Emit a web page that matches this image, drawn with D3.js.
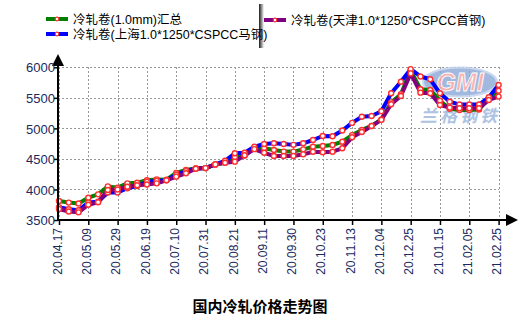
<!DOCTYPE html>
<html><head><meta charset="utf-8">
<script src="https://cdn.jsdelivr.net/npm/d3@7"></script>
<style>body{margin:0;background:#fff}svg{display:block}</style>
</head><body>
<script>
const tickLabels = ["20.04.17","20.05.09","20.05.29","20.06.19","20.07.10","20.07.31","20.08.21","20.09.11","20.09.30","20.10.23","20.11.13","20.12.04","20.12.25","21.01.15","21.02.05","21.02.25"];
const yTicks = [3500,4000,4500,5000,5500,6000];
const seriesNames = ["冷轧卷(1.0mm)汇总","冷轧卷(上海1.0*1250*CSPCC马钢)","冷轧卷(天津1.0*1250*CSPCC首钢)"];
const greenVals = [3810,3785,3770,3865,3920,4050,4030,4100,4110,4150,4165,4160,4270,4320,4345,4350,4410,4440,4527,4555,4675,4675,4646,4620,4620,4657,4700,4711,4728,4782,4890,4974,5040,5145,5425,5560,5950,5640,5628,5453,5320,5300,5300,5310,5493,5617];
const blueVals  = [3710,3675,3660,3785,3800,3950,3950,4020,4055,4125,4140,4150,4240,4300,4345,4350,4410,4470,4592,4600,4700,4745,4756,4745,4730,4756,4810,4875,4870,4965,5090,5191,5203,5280,5574,5764,5970,5850,5804,5574,5437,5390,5390,5390,5509,5710];
const purpleVals= [3680,3640,3625,3750,3790,3990,4000,4045,4070,4080,4100,4150,4210,4265,4340,4350,4410,4438,4455,4560,4660,4600,4548,4548,4548,4575,4618,4608,4618,4674,4854,4940,5040,5140,5395,5530,5900,5585,5574,5383,5340,5330,5330,5330,5465,5520];

const W=521,H=328;
const svg=d3.select("body").append("svg").attr("width",W).attr("height",H);
const x=d3.scaleLinear().domain([0,greenVals.length-1]).range([59,498.6]);
const y=d3.scaleLinear().domain([3500,6000]).range([220,67.3]);
const axisX=58, axisY=220;

// gradient artifact near legend
const defs=svg.append("defs");
const g1=defs.append("linearGradient").attr("id","sh").attr("x1","0").attr("x2","1");
g1.append("stop").attr("offset","0").attr("stop-color","#000").attr("stop-opacity",0.9);
g1.append("stop").attr("offset","1").attr("stop-color","#000").attr("stop-opacity",0);
svg.append("rect").attr("x",259).attr("y",4).attr("width",5).attr("height",44).attr("fill","url(#sh)");

// grid
const gridStyle=s=>s.attr("stroke","#999").attr("stroke-width",1).attr("stroke-dasharray","2,2").attr("shape-rendering","crispEdges");
svg.append("g").selectAll("line").data(yTicks.filter(d=>d>3500)).join("line")
  .attr("x1",axisX).attr("x2",498.6).attr("y1",d=>Math.round(y(d))+0.5).attr("y2",d=>Math.round(y(d))+0.5).call(gridStyle);
svg.append("g").selectAll("line").data(tickLabels.map((d,i)=>i*3)).join("line")
  .attr("x1",d=>Math.round(x(d))+0.5).attr("x2",d=>Math.round(x(d))+0.5).attr("y1",y(6000)).attr("y2",axisY).call(gridStyle);

// watermark
const wm=svg.append("g").attr("opacity",0.8);
wm.append("ellipse").attr("cx",460).attr("cy",82).attr("rx",37).attr("ry",14.5).attr("fill","#8aa8d8").attr("stroke","#c0d0ec").attr("stroke-width",2);
wm.append("text").attr("x",460).attr("y",91).attr("text-anchor","middle").attr("font-family","Liberation Sans, Arial").attr("font-weight","bold").attr("font-style","italic").attr("font-size",25).attr("fill","#f4a0a0").attr("stroke","#fff").attr("stroke-width",0.8).text("GMI");
wm.append("text").attr("x",460).attr("y",122).attr("text-anchor","middle").attr("font-family","Noto Sans CJK SC").attr("font-weight","bold").attr("font-style","italic").attr("font-size",17).attr("letter-spacing","3").attr("fill","#9ab4dc").text("兰格钢铁");

// lines
const line=d3.line().x((d,i)=>x(i)).y(d=>y(d));
const series=[{v:greenVals,c:"#008000"},{v:blueVals,c:"#0000ff"},{v:purpleVals,c:"#800080"}];
series.forEach(s=>{
  svg.append("path").datum(s.v).attr("d",line).attr("fill","none").attr("stroke",s.c).attr("stroke-width",4).attr("stroke-linejoin","round");
});
series.forEach(s=>{
  svg.append("g").selectAll("circle").data(s.v).join("circle")
    .attr("cx",(d,i)=>x(i)).attr("cy",d=>y(d)).attr("r",2.5).attr("fill","#fff").attr("stroke","#ff3030").attr("stroke-width",1.4);
});

// axes
svg.append("line").attr("x1",axisX).attr("x2",axisX).attr("y1",62).attr("y2",axisY+1).attr("stroke","#000").attr("stroke-width",2);
svg.append("line").attr("x1",axisX-1).attr("x2",508).attr("y1",axisY).attr("y2",axisY).attr("stroke","#000").attr("stroke-width",2);
svg.append("path").attr("d",`M${axisX-6},${66} L${axisX},${54} L${axisX+6},${66} Z`).attr("fill","#000");
svg.append("path").attr("d",`M506,${axisY-6} L518,${axisY} L506,${axisY+6} Z`).attr("fill","#000");

const yAxis=d3.axisLeft(y).tickValues(yTicks).tickSize(4).tickFormat(d3.format("d"));
const ya=svg.append("g").attr("transform",`translate(${axisX},0)`).call(yAxis);
ya.select(".domain").remove();
ya.selectAll("line").attr("stroke","#000").attr("stroke-width",1.5);
ya.selectAll("text").attr("font-family","Liberation Sans, Arial").attr("font-size",13).attr("fill","#1a2a60").attr("x",-3).attr("dy","0.36em");

const xAxis=d3.axisBottom(x).tickValues(tickLabels.map((d,i)=>i*3)).tickSize(5).tickFormat((d)=>tickLabels[d/3]);
const xa=svg.append("g").attr("transform",`translate(0,${axisY})`).call(xAxis);
xa.select(".domain").remove();
xa.selectAll("line").attr("stroke","#000").attr("stroke-width",1.5);
xa.selectAll("text").attr("font-family","Liberation Sans, Arial").attr("font-size",12).attr("fill","#1a2a60")
  .attr("transform","rotate(-90)").attr("text-anchor","end").attr("x",-8).attr("y",-2).attr("dy","0.35em");

// legend
const leg=[{n:seriesNames[0],c:"#008000",lx:46,ly:19},{n:seriesNames[1],c:"#0000ff",lx:46,ly:34},{n:seriesNames[2],c:"#800080",lx:264,ly:20}];
leg.forEach(l=>{
  svg.append("line").attr("x1",l.lx).attr("x2",l.lx+22).attr("y1",l.ly).attr("y2",l.ly).attr("stroke",l.c).attr("stroke-width",4);
  svg.append("circle").attr("cx",l.lx+11).attr("cy",l.ly).attr("r",1.8).attr("fill","#fff").attr("stroke","#ff3030").attr("stroke-width",1.2);
  svg.append("text").attr("x",l.lx+27).attr("y",l.ly).attr("dy","0.36em").attr("font-family","Liberation Sans, Noto Sans CJK SC").attr("font-size",12.5).attr("fill","#000").text(l.n);
});

// title
svg.append("text").attr("x",260).attr("y",312).attr("text-anchor","middle").attr("font-family","Noto Sans CJK SC").attr("font-weight","bold").attr("font-size",15).attr("fill","#000").text("国内冷轧价格走势图");
</script>
</body></html>
